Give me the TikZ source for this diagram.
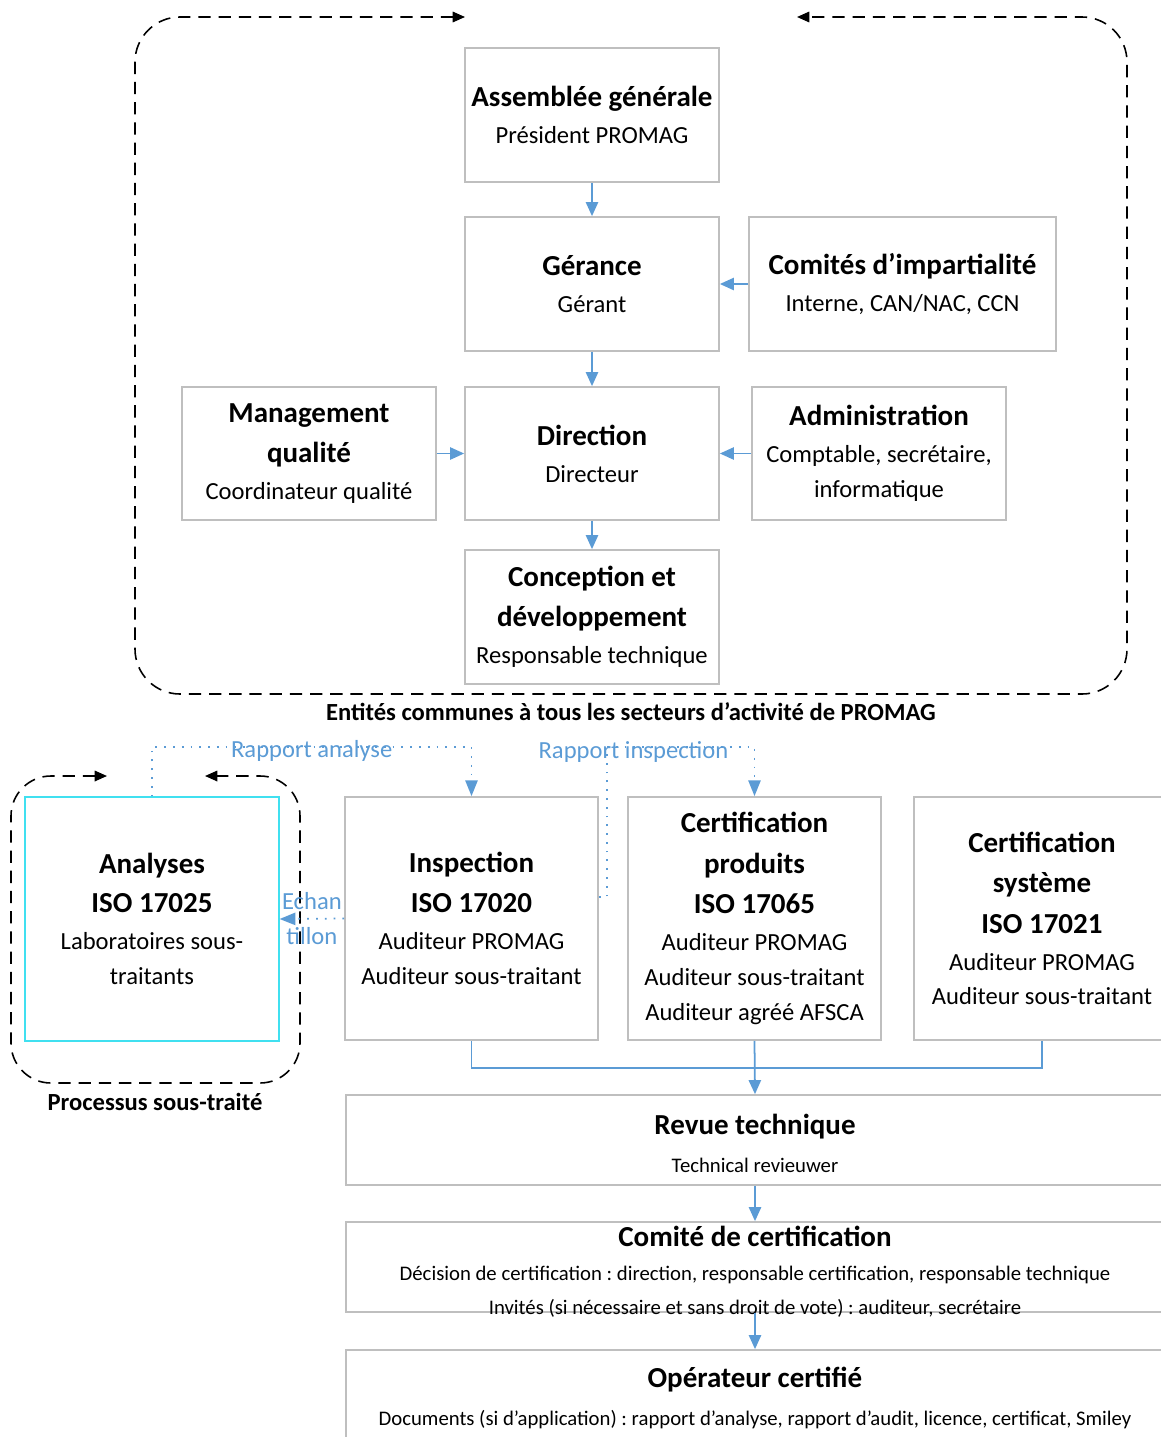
\documentclass[tikz,border=0pt]{standalone}
\usepackage{fontspec}
\setmainfont{Carlito}
\frenchspacing
\usetikzlibrary{arrows.meta}
\usetikzlibrary{calc}
\definecolor{lienbleu}{RGB}{91,155,213}
\definecolor{bordgris}{RGB}{191,191,191}
\definecolor{bordcyan}{RGB}{64,224,240}
\tikzset{boite/.style={draw=bordgris,line width=1pt,align=center,inner sep=0pt,font=\fontsize{14}{19.8}\selectfont}}
\tikzset{taille/.style 2 args={minimum width=#1*0.02cm,minimum height=#2*0.02cm}}
\tikzset{trait/.style={draw=lienbleu,line width=1pt}}
\tikzset{fleche/.style={trait,-{Triangle[length=8pt,width=7pt]}}}
\tikzset{pointille/.style={draw=lienbleu,line width=1pt,dash pattern=on 1pt off 4pt,-{Triangle[length=9pt,width=7pt]}}}
\tikzset{tirets/.style={line width=0.9pt,dash pattern=on 7pt off 4.5pt,{Triangle[length=7pt,width=6pt]}-{Triangle[length=7pt,width=6pt]}}}
\tikzset{etiq/.style={text=lienbleu,font=\fontsize{14}{19.8}\selectfont,inner sep=0pt,align=center}}
\tikzset{legende/.style={font=\fontsize{14}{17}\selectfont\bfseries,inner sep=0pt}}
\newcommand{\titre}[1]{{\fontsize{16.5}{20}\selectfont\bfseries #1}}

\begin{document}
\begin{tikzpicture}[x=0.02cm,y=-0.02cm]
  \useasboundingbox (0,0) rectangle (1160,1437);
  \node[boite,taille={254}{134}] (assemblee) at (592,115) {\titre{Assemblée générale}\\[1.2pt] Président PROMAG};
  \node[boite,taille={254}{134}] (gerance) at (592,284) {\titre{Gérance}\\[1.2pt] Gérant};
  \node[boite,taille={307}{134}] (comites) at (902.5,284) {\titre{Comités d’impartialité}\\[1.2pt] Interne, CAN/NAC, CCN};
  \node[boite,taille={254}{133}] (management) at (309,453.5) {\titre{Management}\\[3.2pt] \titre{qualité}\\[1.2pt] Coordinateur qualité};
  \node[boite,taille={254}{133}] (direction) at (592,453.5) {\titre{Direction}\\[1.2pt] Directeur};
  \node[boite,taille={254}{133}] (administration) at (879,453.5) {\titre{Administration}\\[1.2pt] Comptable, secrétaire,\\ informatique};
  \node[boite,taille={254}{134}] (conception) at (592,617) {\titre{Conception et}\\[3.2pt] \titre{développement}\\[1.2pt] Responsable technique};
  \draw[tirets,rounded corners=0.9cm] (465,17) -| (135,694) -| (1127,17) -- (797,17);
  \node[legende] (entites) at (631,712) {Entités communes à tous les secteurs d’activité de PROMAG};

  \node[boite,draw=bordcyan,line width=0.7pt,taille={254}{244}] (analyses) at (152,919) {\titre{Analyses}\\[2.5pt] \titre{ISO 17025}\\[1.2pt] Laboratoires sous-\\ traitants};
  \draw[tirets,rounded corners=0.8cm] (107,776) -| (11,1083) -| (300,776) -- (205,776);
  \node[legende] (processus) at (155,1102) {Processus sous-traité};
  \node[boite,taille={253}{243}] (inspection) at (471.5,918.5) {\titre{Inspection}\\[3.2pt] \titre{ISO 17020}\\[1.2pt] Auditeur PROMAG\\ Auditeur sous-traitant};
  \node[boite,taille={253}{243}] (produits) at (754.5,918.5) {\titre{Certification}\\[3.2pt] \titre{produits}\\[3.2pt] \titre{ISO 17065}\\[1.2pt] Auditeur PROMAG\\ Auditeur sous-traitant\\ Auditeur agréé AFSCA};
  \node[boite,taille={256}{243}] (systeme) at (1042,918.5) {\titre{Certification}\\[3.2pt] \titre{système}\\[3.2pt] \titre{ISO 17021}\\[1.2pt] Auditeur PROMAG\\ Auditeur sous-traitant};
  \node[boite,taille={818}{90},font=\fontsize{11.8}{21.5}\selectfont] (revue) at (755,1140) {\rule{0pt}{15pt}\titre{Revue technique}\\ Technical revieuwer};
  \node[boite,taille={818}{90},inner ysep=-7pt,font=\fontsize{11.8}{19.5}\selectfont] (comite) at (755,1267) {\rule{0pt}{17pt}\titre{Comité de certification}\\ Décision de certification : direction, responsable certification, responsable technique\\ Invités (si nécessaire et sans droit de vote) : auditeur, secrétaire};
  \node[boite,taille={818}{96},font=\fontsize{11.8}{22}\selectfont] (operateur) at (755,1398) {\titre{Opérateur certifié}\\ Documents (si d’application) : rapport d’analyse, rapport d’audit, licence, certificat, Smiley};

  \draw[fleche] (assemblee) -- (gerance);
  \draw[fleche] (gerance) -- (direction);
  \draw[fleche] (comites) -- (gerance);
  \draw[fleche] (management) -- (direction);
  \draw[fleche] (administration) -- (direction);
  \draw[fleche] (direction) -- (conception);

  \draw[pointille] (analyses.north) |- node[pos=0.75,etiq,yshift=-2pt] {Rapport analyse} ($(inspection.north)+(0,-49)$) -- (inspection.north);
  \draw[pointille] ($(inspection.north east)+(0,101)$) -- ++(8,0) |- node[pos=0.59,etiq,yshift=-3pt] {Rapport inspection} ($(produits.north)+(0,-49)$) -- (produits.north);
  \draw[pointille] (inspection.west) -- node[etiq] {Echan\\tillon} (analyses.east);

  \coordinate (jonction) at (755,1068);
  \draw[trait] (inspection.south) |- (jonction) -| (systeme.south);
  \draw[fleche] (produits.south) -- (revue.north);
  \draw[fleche] (revue) -- (comite);
  \draw[fleche] (comite) -- (operateur);
\end{tikzpicture}
\end{document}
